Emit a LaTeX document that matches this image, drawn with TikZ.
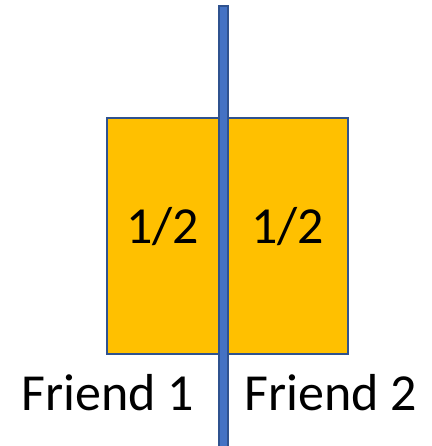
\documentclass[tikz,border=0pt]{standalone}
\usepackage{fontspec}
\setmainfont{Carlito}
\definecolor{gold}{HTML}{FFC000}
\definecolor{goldedge}{HTML}{2F528F}
\definecolor{barblue}{HTML}{4472C4}
\definecolor{baredge}{HTML}{2F528F}
\begin{document}
\begin{tikzpicture}[x=1pt,y=1pt,
  share/.style={fill=gold,draw=goldedge,line width=1.3pt},
  divider/.style={fill=barblue,draw=baredge,line width=1.3pt},
  label/.style={font=\fontsize{52}{60}\selectfont,anchor=base,inner sep=0pt}]
\useasboundingbox (0,0) rectangle (431,446);
% the cake being shared
\draw[share] (107,92) rectangle (348,328);
% the cut
\draw[divider] (219,-5) rectangle (228,440);
\node[label] (h1) at (162.5,202) {1/2};
\node[label] (h2) at (287.5,202) {1/2};
\node[label] (f1) at (107.5,35) {Friend 1};
\node[label] (f2) at (331,35) {Friend 2};
\end{tikzpicture}
\end{document}
